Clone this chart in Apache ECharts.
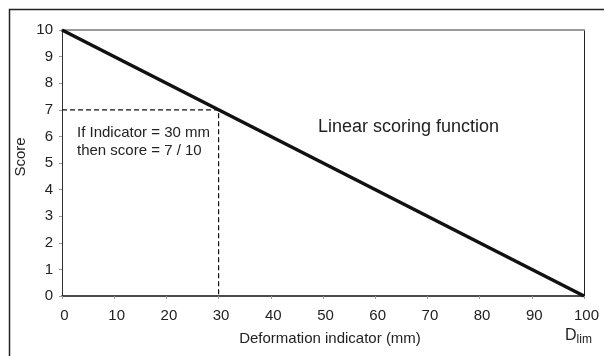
<!DOCTYPE html>
<html>
<head>
<meta charset="UTF-8">
<script src="https://cdn.jsdelivr.net/npm/echarts@6/dist/echarts.min.js"></script>
<style>
  html, body { margin: 0; padding: 0; background: #fff; }
  #chart { width: 604px; height: 356px; }
</style>
</head>
<body>
<div id="chart"></div>
<script>
// scoring line and the worked example
const indicatorValues = [0, 100];
const scoreValues = [10, 0];
const exampleX = [0, 30, 30];
const exampleY = [7, 7, 0];
const xTicks = [0, 10, 20, 30, 40, 50, 60, 70, 80, 90, 100];
const yTicks = [0, 1, 2, 3, 4, 5, 6, 7, 8, 9, 10];

const font = 'Liberation Sans, Arial, sans-serif';
const chart = echarts.init(document.getElementById('chart'));

chart.setOption({
  animation: false,
  grid: { left: 62, right: 20, top: 30, bottom: 60, outerBoundsMode: 'none' },
  xAxis: [{
    type: 'value',
    min: xTicks[0],
    max: xTicks[xTicks.length - 1],
    interval: 10,
    name: 'Deformation indicator (mm)',
    nameLocation: 'middle',
    nameGap: 35,
    nameTextStyle: { fontFamily: font, fontSize: 15, color: '#222', padding: [0, 0, 0, 14] },
    axisLine: { onZero: false, lineStyle: { color: '#111', width: 1.5 } },
    axisTick: { length: 3, lineStyle: { color: '#999' } },
    axisLabel: { fontFamily: font, fontSize: 15, color: '#222', margin: 12, padding: [0, 0, 0, 5] },
    splitLine: { show: false }
  }, {
    type: 'value', position: 'top', min: 0, max: 100,
    axisLine: { show: true, onZero: false, lineStyle: { color: '#999', width: 2 } },
    axisTick: { show: false }, axisLabel: { show: false }, splitLine: { show: false }
  }],
  yAxis: [{
    type: 'value',
    min: yTicks[0],
    max: yTicks[yTicks.length - 1],
    interval: 1,
    name: 'Score',
    nameLocation: 'middle',
    nameGap: 34,
    nameMoveOverlap: false,
    nameTextStyle: { fontFamily: font, fontSize: 15, color: '#222', padding: [0, 0, 0, 12] },
    axisLine: { show: true, onZero: false, lineStyle: { color: '#333', width: 1 } },
    axisTick: { show: true, length: 3, lineStyle: { color: '#999' } },
    axisLabel: { fontFamily: font, fontSize: 15, color: '#222', margin: 9 },
    splitLine: { show: false }
  }, {
    type: 'value', position: 'right', min: 0, max: 10,
    axisLine: { show: true, onZero: false, lineStyle: { color: '#222', width: 1 } },
    axisTick: { show: false }, axisLabel: { show: false }, splitLine: { show: false }
  }],
  series: [{
    type: 'line',
    data: exampleX.map((x, i) => [x, exampleY[i]]),
    symbol: 'none',
    lineStyle: { color: '#111', width: 1.2, type: [5, 3] },
    z: 2
  }, {
    type: 'line',
    data: indicatorValues.map((x, i) => [x, scoreValues[i]]),
    symbol: 'none',
    lineStyle: { color: '#111', width: 3.5 },
    z: 3
  }],
  graphic: [
    { type: 'rect', left: 7, top: 7, shape: { width: 700, height: 500 },
      style: { fill: 'none', stroke: '#222', lineWidth: 1.5 }, silent: true },
    { type: 'text', left: 77, top: 124,
      style: { text: 'If Indicator = 30 mm\nthen score = 7 / 10', fontFamily: font, fontSize: 15, lineHeight: 18, fill: '#222' } },
    { type: 'text', left: 318, top: 118,
      style: { text: 'Linear scoring function', fontFamily: font, fontSize: 18, fill: '#222' } },
    { type: 'text', left: 565, top: 328,
      style: { text: '{d|D}{s|lim}', fill: '#222',
        rich: { d: { fontFamily: font, fontSize: 16, fill: '#222' },
                s: { fontFamily: font, fontSize: 12, fill: '#222', padding: [7, 0, 0, 0] } } } }
  ]
});
</script>
</body>
</html>
